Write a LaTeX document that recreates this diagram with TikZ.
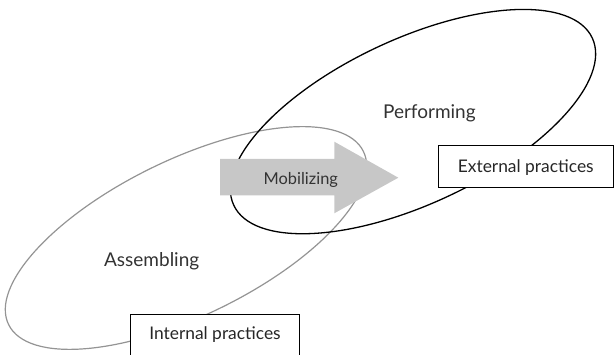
\documentclass[tikz,border=0pt]{standalone}
\usepackage{fontspec}
\setmainfont{Lato}
\begin{document}
\begin{tikzpicture}[x=1pt,y=1pt,
  stagelabel/.style={font=\fontsize{19}{22}\selectfont, text=black!80, anchor=base, inner sep=0pt},
  practicebox/.style={draw=black, line width=0.8pt, fill=white, inner xsep=0pt, inner ysep=0pt,
    font=\fontsize{17.4}{20}\selectfont, text=black!85},
  flowarrow/.style={fill=black!22, draw=none},
  outerloop/.style={draw=black, line width=1.3pt},
  innerloop/.style={draw=black!42, line width=1.2pt}]
\useasboundingbox (0,0) rectangle (614,355);
\clip (0,0) rectangle (614,355);

% the two overlapping domains
\draw[innerloop] (186,117) ellipse [x radius=197.4, y radius=78, rotate=26];
\draw[outerloop] (413,233.4) ellipse [x radius=197.8, y radius=82.5, rotate=25];

% broad arrow carrying the mobilizing step
\fill[flowarrow] (220,196) -- (334.3,196) -- (334.3,213.3) -- (398.3,177.3)
  -- (334.3,141.7) -- (334.3,159.5) -- (220,159.5) -- cycle;
\node[stagelabel, font=\fontsize{16.4}{19}\selectfont] (mob) at (300.8,170) {Mobilizing};

% stage labels
\node[stagelabel] (perf) at (429.4,236.7) {Performing};
\node[stagelabel] (assem) at (151.7,88.3) {Assembling};

% practice boxes
\node[practicebox, anchor=north, minimum width=175.5pt, text height=27.3pt, text depth=14.4pt]
  (ext) at (525.75,210) {External practices};
\node[practicebox, anchor=north, minimum width=168.6pt, text height=25.3pt, text depth=40pt]
  (int) at (215,41) {Internal practices};
\end{tikzpicture}
\end{document}
